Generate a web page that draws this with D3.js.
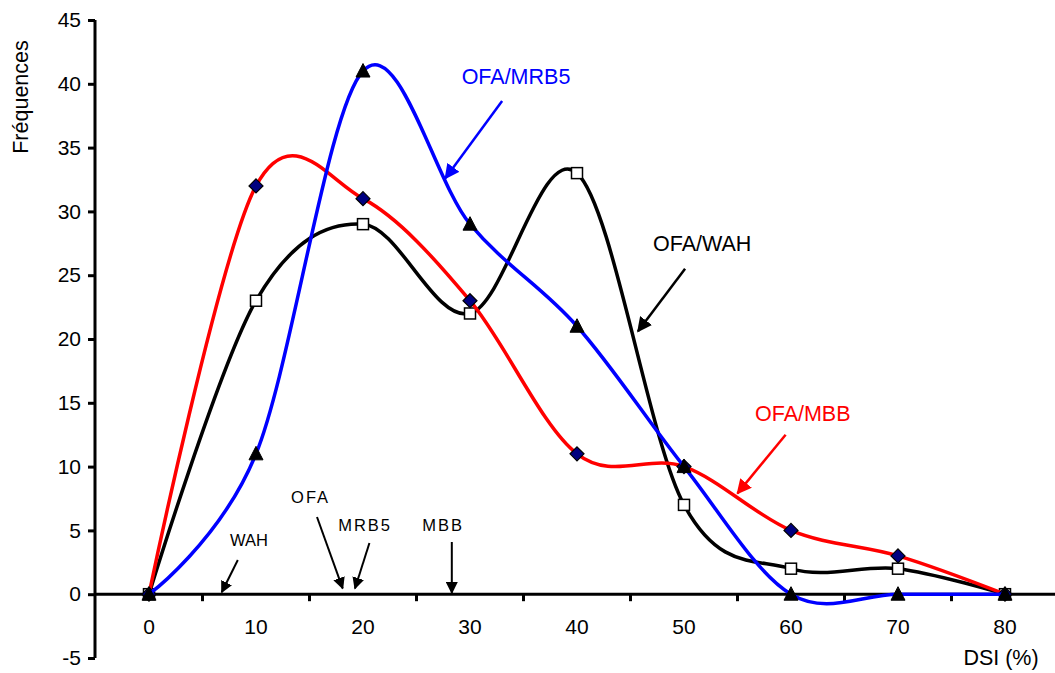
<!DOCTYPE html>
<html>
<head>
<meta charset="utf-8">
<script src="https://cdn.jsdelivr.net/npm/d3@7/dist/d3.min.js"></script>
<style>
  html, body { margin: 0; padding: 0; background: #fff; }
  svg { display: block; font-family: Arial, "Liberation Sans", sans-serif; }
</style>
</head>
<body>
<div id="chart"></div>
<script>
// ---- data
const categories = [0, 10, 20, 30, 40, 50, 60, 70, 80];
const wahValues  = [0, 23, 29, 22, 33, 7, 2, 2, 0];     // OFA/WAH  (black, squares)
const mbbValues  = [0, 32, 31, 23, 11, 10, 5, 3, 0];    // OFA/MBB  (red, diamonds)
const mrb5Values = [0, 11, 41, 29, 21, 10, 0, 0, 0];    // OFA/MRB5 (blue, triangles)
const yTicks = [-5, 0, 5, 10, 15, 20, 25, 30, 35, 40, 45];

// annotations in data units: label position, arrow start -> arrow end
const seriesNotes = [
  { text: 'OFA/MRB5', color: '#0000ff', tx: 34.3, ty: 40.6, x1: 33.0, y1: 38.65, x2: 27.7, y2: 32.6 },
  { text: 'OFA/WAH',  color: '#000000', tx: 51.7, ty: 27.5, x1: 50.1, y1: 25.5,  x2: 45.7, y2: 20.6 },
  { text: 'OFA/MBB',  color: '#ff0000', tx: 61.1, ty: 14.2, x1: 59.5, y1: 12.5,  x2: 55.0, y2: 7.9 }
];
const parentNotes = [
  { text: 'WAH',  tx: 9.35, ty: 4.25, x1: 8.3,  y1: 2.68, x2: 6.8,  y2: 0.15 },
  { text: 'OFA',  tx: 15.1, ty: 7.6,  x1: 15.7, y1: 6.05, x2: 18.1, y2: 0.45 },
  { text: 'MRB5', tx: 20.2, ty: 5.42, x1: 20.6, y1: 4.01, x2: 19.25, y2: 0.45 },
  { text: 'MBB',  tx: 27.5, ty: 5.42, x1: 28.3, y1: 4.09, x2: 28.3, y2: 0.1 }
];

const width = 1055, height = 673;
const FONT = 'Arial, "Liberation Sans", sans-serif';

const svg = d3.select('#chart').append('svg')
  .attr('width', width).attr('height', height);

// ---- scales
const x = d3.scaleBand()
  .domain(categories)
  .range([95.5, 1058.5])
  .padding(0);
const cx = c => x(c) + x.bandwidth() / 2;
// DSI value -> pixel (for annotations)
const xv = d3.scaleLinear().domain([0, 80]).range([cx(0), cx(80)]);

const y = d3.scaleLinear().domain([-5, 45]).range([658, 20]);

// ---- y axis
const yAxis = svg.append('g').attr('transform', 'translate(95,0)')
  .call(d3.axisLeft(y).tickValues(yTicks).tickSize(7).tickPadding(7).tickFormat(d => String(d)));
yAxis.select('.domain').attr('stroke', '#000').attr('stroke-width', 3).attr('d', `M0,${y(45)}V${y(-5)}`);
yAxis.selectAll('.tick line').attr('stroke', '#000').attr('stroke-width', 3);
yAxis.selectAll('.tick text').attr('font-size', 21).attr('font-family', FONT).attr('fill', '#000');

// ---- x axis (at y = 0), ticks between categories
const x0 = y(0);
const xAxisG = svg.append('g');
xAxisG.append('line')
  .attr('x1', 95).attr('x2', width)
  .attr('y1', x0).attr('y2', x0)
  .attr('stroke', '#000').attr('stroke-width', 3);
xAxisG.selectAll('.xtick')
  .data(categories.slice(1))
  .join('line')
  .attr('class', 'xtick')
  .attr('x1', d => x(d)).attr('x2', d => x(d))
  .attr('y1', x0).attr('y2', x0 + 7)
  .attr('stroke', '#000').attr('stroke-width', 3);
xAxisG.selectAll('.xlabel')
  .data(categories)
  .join('text')
  .attr('class', 'xlabel')
  .attr('x', d => cx(d))
  .attr('y', x0 + 40)
  .attr('text-anchor', 'middle')
  .attr('font-size', 21)
  .text(d => d);

// ---- axis titles
svg.append('text')
  .attr('transform', `translate(28,97) rotate(-90)`)
  .attr('text-anchor', 'middle')
  .attr('font-size', 21.5)
  .text('Fréquences');
svg.append('text')
  .attr('x', 1001).attr('y', 665)
  .attr('text-anchor', 'middle')
  .attr('font-size', 21.5)
  .text('DSI (%)');

// ---- series
const line = d3.line()
  .x(d => cx(d.c))
  .y(d => y(d.v))
  .curve(d3.curveCardinal.tension(0));

function drawSeries(values, color, marker) {
  const pts = categories.map((c, i) => ({ c, v: values[i] }));
  const g = svg.append('g');
  g.append('path')
    .datum(pts)
    .attr('d', line)
    .attr('fill', 'none')
    .attr('stroke', color)
    .attr('stroke-width', 3.5)
    .attr('stroke-linejoin', 'round');
  const m = g.selectAll('.m').data(pts).join('g')
    .attr('transform', d => `translate(${cx(d.c)},${y(d.v)})`);
  if (marker === 'square') {
    m.append('rect').attr('x', -5.5).attr('y', -5.5).attr('width', 11).attr('height', 11)
      .attr('fill', '#fff').attr('stroke', '#000').attr('stroke-width', 1.5);
  } else if (marker === 'diamond') {
    m.append('path').attr('d', 'M0,-7L7,0L0,7L-7,0Z')
      .attr('fill', '#000080').attr('stroke', '#000').attr('stroke-width', 1.2);
  } else {
    m.append('path').attr('d', 'M0,-7.5L7,6L-7,6Z')
      .attr('fill', '#000').attr('stroke', '#000').attr('stroke-width', 1);
  }
}

drawSeries(wahValues, '#000000', 'square');
drawSeries(mbbValues, '#ff0000', 'diamond');
drawSeries(mrb5Values, '#0000ff', 'triangle');

// ---- arrow markers
const defs = svg.append('defs');
['#000000', '#0000ff', '#ff0000'].forEach((col, i) => {
  defs.append('marker')
    .attr('id', 'arr' + i)
    .attr('viewBox', '0 0 10 10')
    .attr('refX', 9).attr('refY', 5)
    .attr('markerWidth', 6).attr('markerHeight', 6)
    .attr('markerUnits', 'strokeWidth')
    .attr('orient', 'auto')
    .append('path').attr('d', 'M0,0L10,5L0,10Z').attr('fill', col);
});
const markerId = col => col === '#0000ff' ? 'arr1' : col === '#ff0000' ? 'arr2' : 'arr0';

// ---- series annotations
const sn = svg.append('g').selectAll('g').data(seriesNotes).join('g');
sn.append('text')
  .attr('x', d => xv(d.tx)).attr('y', d => y(d.ty))
  .attr('dy', '0.35em')
  .attr('text-anchor', 'middle')
  .attr('font-size', 21.5)
  .attr('fill', d => d.color)
  .text(d => d.text);
sn.append('line')
  .attr('x1', d => xv(d.x1)).attr('y1', d => y(d.y1))
  .attr('x2', d => xv(d.x2)).attr('y2', d => y(d.y2))
  .attr('stroke', d => d.color).attr('stroke-width', 2.5)
  .attr('marker-end', d => `url(#${markerId(d.color)})`);

// ---- parent (DSI mean) annotations
const pn = svg.append('g').selectAll('g').data(parentNotes).join('g');
pn.append('text')
  .attr('x', d => xv(d.tx)).attr('y', d => y(d.ty))
  .attr('dy', '0.35em')
  .attr('text-anchor', 'middle')
  .attr('font-size', 16.5)
  .attr('letter-spacing', d => d.text === 'WAH' ? 0 : 2)
  .text(d => d.text);
pn.append('line')
  .attr('x1', d => xv(d.x1)).attr('y1', d => y(d.y1))
  .attr('x2', d => xv(d.x2)).attr('y2', d => y(d.y2))
  .attr('stroke', '#000').attr('stroke-width', 2)
  .attr('marker-end', 'url(#arr0)');
</script>
</body>
</html>
